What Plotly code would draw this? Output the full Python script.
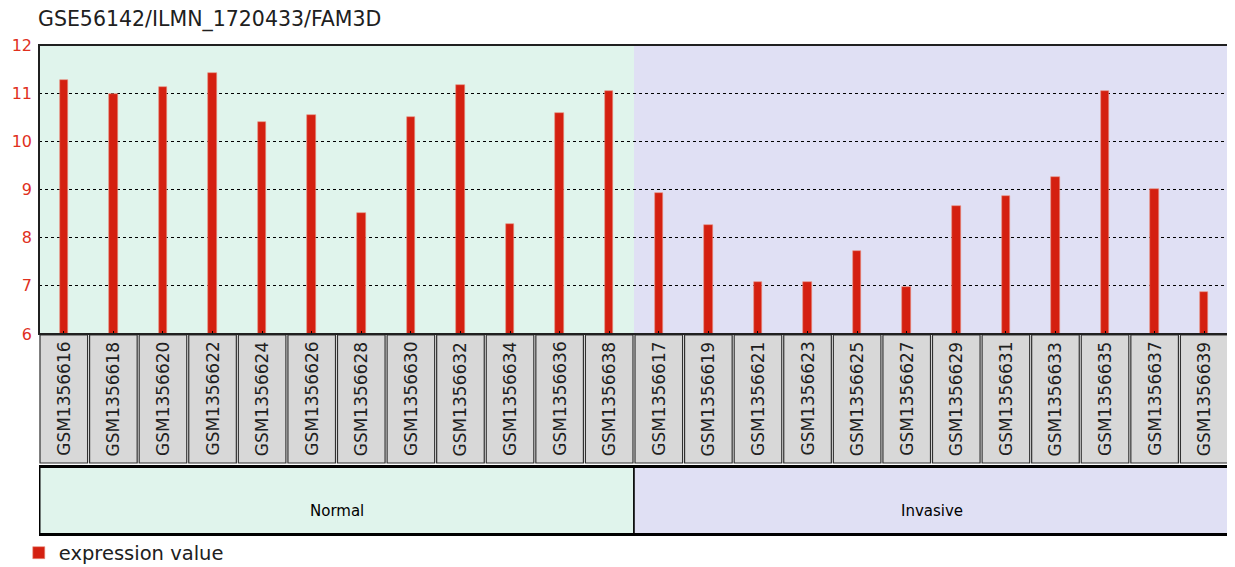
import plotly.graph_objects as go

samples = ["GSM1356616", "GSM1356618", "GSM1356620", "GSM1356622", "GSM1356624",
           "GSM1356626", "GSM1356628", "GSM1356630", "GSM1356632", "GSM1356634",
           "GSM1356636", "GSM1356638", "GSM1356617", "GSM1356619", "GSM1356621",
           "GSM1356623", "GSM1356625", "GSM1356627", "GSM1356629", "GSM1356631",
           "GSM1356633", "GSM1356635", "GSM1356637", "GSM1356639"]
values = [11.27, 10.98, 11.12, 11.41, 10.40, 10.55, 8.51, 10.51, 11.16, 8.29,
          10.58, 11.05, 8.93, 8.27, 7.08, 7.08, 7.73, 6.98, 8.66, 8.87,
          9.26, 11.05, 9.01, 6.87]
groups = ["Normal"] * 12 + ["Invasive"] * 12
group_names = ["Normal", "Invasive"]
group_colors = {"Normal": "#E0F4EC", "Invasive": "#E0E0F4"}
y_ticks = [6, 7, 8, 9, 10, 11, 12]

# page body has an 8px margin; figure sized to the visible area
OFF = 8
W, H = 1235 - OFF, 567 - OFF
PLOT_TOP, PLOT_BOTTOM, PLOT_LEFT, PLOT_RIGHT = 45, 334, 39, 1229
ML = PLOT_LEFT - OFF
MT = PLOT_TOP - OFF
MB = H - (PLOT_BOTTOM - OFF)
MR = W - (PLOT_RIGHT - OFF)
PH = PLOT_BOTTOM - PLOT_TOP


def py(pix):
    """reference pixel row -> paper y"""
    return (PLOT_BOTTOM - pix) / PH


idx = list(range(len(samples)))
fig = go.Figure()
fig.add_trace(go.Bar(
    x=idx, y=values, base=0, width=0.17, name="expression value",
    marker=dict(color="#D42010", line=dict(color="#E89080", width=0.6)),
    showlegend=True,
))

shapes = []
annotations = []
for g in group_names:
    members = [i for i, gg in enumerate(groups) if gg == g]
    x0, x1 = min(members) - 0.5, max(members) + 0.5
    shapes.append(dict(type="rect", xref="x", yref="paper", x0=x0, x1=x1, y0=0, y1=1,
                       fillcolor=group_colors[g], line=dict(width=0), layer="below"))
    shapes.append(dict(type="rect", xref="x", yref="paper", x0=x0, x1=x1,
                       y0=py(534), y1=py(467), fillcolor=group_colors[g],
                       line=dict(color="#000000", width=1.5), layer="above"))
    annotations.append(dict(x=(x0 + x1) / 2, y=py(511), xref="x", yref="paper",
                            text=g, showarrow=False, xanchor="center", yanchor="middle",
                            font=dict(family="DejaVu Sans", size=15, color="#000000")))
shapes.append(dict(type="rect", xref="x", yref="paper", x0=-0.5, x1=len(samples) - 0.5,
                   y0=py(534.5), y1=py(466.5), line=dict(color="#000000", width=3),
                   fillcolor="rgba(0,0,0,0)", layer="above"))
for i, s in enumerate(samples):
    shapes.append(dict(type="rect", xref="x", yref="paper", x0=i - 0.48, x1=i + 0.48,
                       y0=py(463), y1=py(335), fillcolor="#D8D8D8",
                       line=dict(color="#303030", width=1.2), layer="above"))
    annotations.append(dict(x=i, y=py(399), xref="x", yref="paper", text=s,
                            textangle=-90, showarrow=False,
                            xanchor="center", yanchor="middle",
                            font=dict(family="DejaVu Sans", size=17, color="#202020")))
shapes.append(dict(type="rect", xref="paper", yref="paper", x0=0, x1=1, y0=0, y1=1,
                   line=dict(color="#202020", width=2), fillcolor="rgba(0,0,0,0)",
                   layer="above"))

fig.update_layout(
    width=W, height=H,
    margin=dict(l=ML, r=MR, t=MT, b=MB, pad=0, autoexpand=False),
    paper_bgcolor="#FFFFFF", plot_bgcolor="#FFFFFF",
    title=dict(text="GSE56142/ILMN_1720433/FAM3D", x=(38 - OFF) / W, xanchor="left",
               y=1 - (19 - OFF) / H, yanchor="middle",
               font=dict(family="DejaVu Sans", size=20.5, color="#202020")),
    xaxis=dict(range=[-0.5, len(samples) - 0.5], showticklabels=False, showgrid=False,
               zeroline=False, ticks="inside", ticklen=3, tickcolor="#000000",
               tickvals=idx, fixedrange=True, automargin=False),
    yaxis=dict(range=[6, 12], tickvals=y_ticks, showgrid=True, gridcolor="#000000",
               griddash="dot", gridwidth=1, zeroline=False, ticks="",
               tickfont=dict(family="DejaVu Sans", size=16, color="#E0301E"),
               ticklabelstandoff=6, fixedrange=True, automargin=False),
    showlegend=True,
    legend=dict(orientation="h", x=-0.017, xanchor="left", y=py(553), yanchor="middle",
                font=dict(family="DejaVu Sans", size=19.5, color="#202020"),
                bgcolor="rgba(0,0,0,0)"),
    shapes=shapes, annotations=annotations,
    bargap=0,
)
fig.write_html("out.html")
